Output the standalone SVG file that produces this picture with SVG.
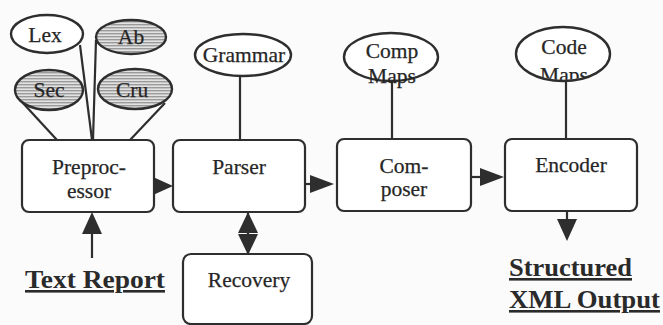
<svg xmlns="http://www.w3.org/2000/svg" width="663" height="325" viewBox="0 0 663 325">
  <defs>
    <pattern id="stripes" width="6" height="3" patternUnits="userSpaceOnUse">
      <rect width="6" height="3" fill="#e2e2e2"/>
      <rect width="6" height="1.4" fill="#9a9a9a"/>
    </pattern>
    <clipPath id="codeClip">
      <ellipse cx="563" cy="54" rx="46" ry="26"/>
    </clipPath>
  </defs>
  <style>
    .box { fill: #ffffff; stroke: #2e2e2e; stroke-width: 2.2; }
    .res { fill: #ffffff; stroke: #2e2e2e; stroke-width: 2.4; }
    .hatch { fill: url(#stripes); stroke: #2e2e2e; stroke-width: 2.4; }
    .lbl { font-family: "Liberation Serif", "Times New Roman", serif; font-size: 21.5px; fill: #262626; stroke: #262626; stroke-width: 0.25; text-anchor: middle; }
    .io { font-family: "Liberation Serif", "Times New Roman", serif; font-size: 26px; font-weight: bold; fill: #2a2a2a; text-decoration: underline; }
    .wire { stroke: #2e2e2e; stroke-width: 2.2; fill: none; }
    .head { fill: #2e2e2e; }
  </style>
  <rect width="663" height="325" fill="#fbfbfb"/>

  <g id="connectors">
    <!-- resources feeding the preprocessor -->
    <line class="wire" x1="80" y1="45" x2="92" y2="140"/>
    <line class="wire" x1="96" y1="40" x2="93" y2="140"/>
    <line class="wire" x1="22" y1="102" x2="57" y2="140"/>
    <line class="wire" x1="165" y1="103" x2="130" y2="140"/>
    <!-- resources attached to later stages -->
    <line class="wire" x1="240" y1="76" x2="240" y2="140"/>
    <line class="wire" x1="392" y1="81" x2="392" y2="139"/>
    <line class="wire" x1="566" y1="80" x2="566" y2="139"/>
    <!-- pipeline flow -->
    <line class="wire" x1="147" y1="186" x2="156" y2="186"/>
    <polygon class="head" points="153,177 173,186 153,195"/>
    <line class="wire" x1="305" y1="184" x2="312" y2="184"/>
    <polygon class="head" points="310,175 334,184 310,193"/>
    <line class="wire" x1="471" y1="177" x2="482" y2="177"/>
    <polygon class="head" points="480,168 504,177 480,186"/>
    <!-- input report -->
    <line class="wire" x1="92" y1="230" x2="92" y2="258"/>
    <polygon class="head" points="82,234 92,212 102,234"/>
    <!-- parser <-> recovery -->
    <line class="wire" x1="248" y1="212" x2="248" y2="254"/>
    <polygon class="head" points="238,233 248,212 258,233"/>
    <polygon class="head" points="238,234 248,255 258,234"/>
    <!-- encoder output -->
    <line class="wire" x1="567" y1="211" x2="567" y2="222"/>
    <polygon class="head" points="557,219 567,241 577,219"/>
  </g>

  <g id="lex">
    <ellipse class="res" cx="47" cy="34" rx="36" ry="19"/>
    <text class="lbl" x="45" y="42" font-size="20.5">Lex</text>
  </g>
  <g id="ab">
    <ellipse class="hatch" cx="131" cy="37" rx="35" ry="17"/>
    <text class="lbl" x="131" y="44" font-size="20.5">Ab</text>
  </g>
  <g id="sec">
    <ellipse class="hatch" cx="49" cy="90" rx="34" ry="20"/>
    <text class="lbl" x="49" y="97" font-size="20.5">Sec</text>
  </g>
  <g id="cru">
    <ellipse class="hatch" cx="135" cy="89" rx="37" ry="20"/>
    <text class="lbl" x="132" y="97" font-size="20.5">Cru</text>
  </g>

  <g id="grammar">
    <ellipse class="res" cx="243" cy="55" rx="48" ry="21"/>
    <text class="lbl" x="244" y="62" font-size="22">Grammar</text>
  </g>
  <g id="comp-maps">
    <ellipse class="res" cx="391" cy="57" rx="47" ry="24"/>
    <text class="lbl" x="392" y="58">Comp</text>
    <text class="lbl" x="392" y="83">Maps</text>
  </g>
  <g id="code-maps">
    <ellipse class="res" cx="563" cy="54" rx="47" ry="27"/>
    <text class="lbl" x="564" y="54">Code</text>
    <text class="lbl" x="564" y="82" clip-path="url(#codeClip)">Maps</text>
  </g>

  <g id="preprocessor">
    <rect class="box" x="22" y="140" width="132" height="72" rx="7"/>
    <text class="lbl" x="89" y="174">Preproc-</text>
    <text class="lbl" x="89" y="198">essor</text>
  </g>
  <g id="parser">
    <rect class="box" x="173" y="140" width="132" height="72" rx="7"/>
    <text class="lbl" x="239" y="174">Parser</text>
  </g>
  <g id="composer">
    <rect class="box" x="337" y="139" width="134" height="72" rx="7"/>
    <text class="lbl" x="404" y="173">Com-</text>
    <text class="lbl" x="404" y="196">poser</text>
  </g>
  <g id="encoder">
    <rect class="box" x="505" y="139" width="132" height="72" rx="7"/>
    <text class="lbl" x="571" y="172">Encoder</text>
  </g>
  <g id="recovery">
    <rect class="box" x="183" y="254" width="129" height="70" rx="8"/>
    <text class="lbl" x="249" y="287">Recovery</text>
  </g>

  <g id="text-report">
    <text class="io" x="25" y="288" textLength="140" lengthAdjust="spacingAndGlyphs">Text Report</text>
  </g>
  <g id="xml-output">
    <text class="io" x="509" y="276" textLength="123" lengthAdjust="spacingAndGlyphs">Structured</text>
    <text class="io" x="509" y="308" textLength="151" lengthAdjust="spacingAndGlyphs">XML Output</text>
  </g>
</svg>
